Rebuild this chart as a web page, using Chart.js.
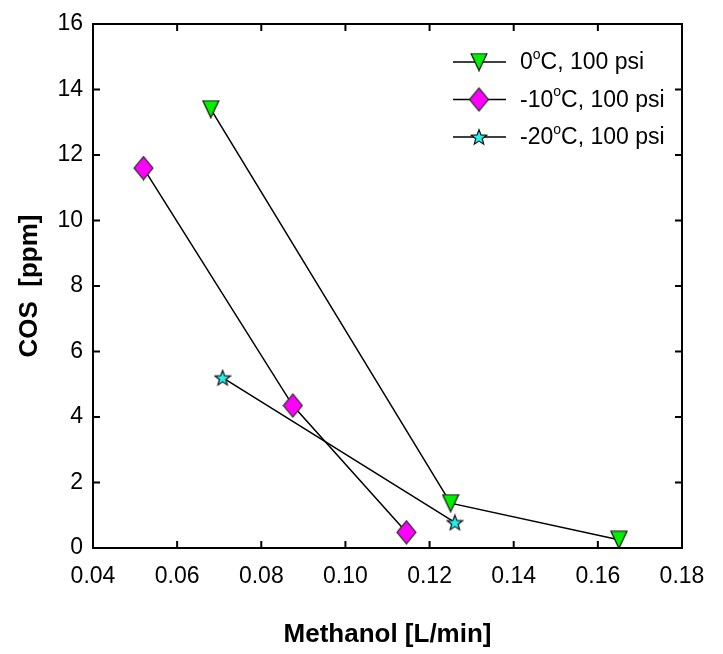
<!DOCTYPE html>
<html lang="en">
<head>
  <meta charset="UTF-8">
  <title>COS vs Methanol</title>
  <script src="https://cdn.jsdelivr.net/npm/chart.js"></script>
  <style>
    body { margin: 0; padding: 0; background: #fff; }
    #wrap { width: 723px; height: 654px; }
  </style>
</head>
<body>
  <div id="wrap"><canvas id="cosChart" width="723" height="654"></canvas></div>

  <script>
    // data
    const seriesLabels = ['0°C, 100 psi', '-10°C, 100 psi', '-20°C, 100 psi'];
    const methanol0 = [0.068, 0.125, 0.165];
    const cos0 = [13.4, 1.37, 0.25];
    const methanol10 = [0.052, 0.0875, 0.1145];
    const cos10 = [11.6, 4.35, 0.48];
    const methanol20 = [0.0708, 0.126];
    const cos20 = [5.2, 0.78];

    const xTicks = [0.04, 0.06, 0.08, 0.10, 0.12, 0.14, 0.16, 0.18];
    const yTicks = [0, 2, 4, 6, 8, 10, 12, 14, 16];

    const FONT = "'Liberation Sans', Arial, sans-serif";

    function pts(xs, ys) {
      return xs.map((x, i) => ({ x: x, y: ys[i] }));
    }

    // marker images
    function makeMarker(w, h, fill, stroke, path) {
      const c = document.createElement('canvas');
      c.width = w; c.height = h;
      const g = c.getContext('2d');
      g.beginPath();
      path(g, w, h);
      g.closePath();
      g.fillStyle = fill;
      g.fill();
      g.lineWidth = 1.2;
      g.strokeStyle = stroke;
      g.stroke();
      return c;
    }

    const triMarker = makeMarker(18, 19, '#00f000', '#111', (g, w, h) => {
      g.moveTo(1, 1); g.lineTo(w - 1, 1); g.lineTo(w / 2, h - 1);
    });
    const diaMarker = makeMarker(21, 25, '#ff00ff', '#333', (g, w, h) => {
      g.moveTo(w / 2, 1); g.lineTo(w - 1, h / 2); g.lineTo(w / 2, h - 1); g.lineTo(1, h / 2);
    });
    const starMarker = makeMarker(18, 18, '#22f0f0', '#111', (g, w, h) => {
      const cx = w / 2, cy = h / 2 + 0.7, ro = 8, ri = 3.4;
      for (let i = 0; i < 10; i++) {
        const r = i % 2 ? ri : ro;
        const a = -Math.PI / 2 + i * Math.PI / 5;
        const px = cx + r * Math.cos(a), py = cy + r * Math.sin(a);
        if (i === 0) g.moveTo(px, py); else g.lineTo(px, py);
      }
    });
    const markers = [triMarker, diaMarker, starMarker];

    // frame with inward ticks on all four sides
    const frame = {
      id: 'frame',
      afterDraw(chart) {
        const { ctx, chartArea: a } = chart;
        const xs = chart.scales.x, ys = chart.scales.y;
        ctx.save();
        ctx.strokeStyle = '#000';
        ctx.lineWidth = 2;
        ctx.strokeRect(a.left, a.top, a.right - a.left, a.bottom - a.top);
        ctx.beginPath();
        xTicks.forEach(v => {
          const px = xs.getPixelForValue(v);
          ctx.moveTo(px, a.bottom); ctx.lineTo(px, a.bottom - 7);
          ctx.moveTo(px, a.top); ctx.lineTo(px, a.top + 7);
        });
        yTicks.forEach(v => {
          const py = ys.getPixelForValue(v);
          ctx.moveTo(a.left, py); ctx.lineTo(a.left + 7, py);
          ctx.moveTo(a.right, py); ctx.lineTo(a.right - 7, py);
        });
        ctx.stroke();
        ctx.restore();
      }
    };

    // legend, top right inside the plot
    const legendBox = {
      id: 'legendBox',
      afterDraw(chart) {
        const { ctx, chartArea: a } = chart;
        const x0 = a.right - 229, y0 = a.top + 38, step = 37.5;
        ctx.save();
        seriesLabels.forEach((lab, i) => {
          const y = y0 + i * step;
          ctx.strokeStyle = '#000';
          ctx.lineWidth = 1.5;
          ctx.beginPath();
          ctx.moveTo(x0, y); ctx.lineTo(x0 + 53, y);
          ctx.stroke();
          const m = markers[i];
          ctx.drawImage(m, x0 + 26 - m.width / 2, y - m.height / 2);

          const parts = lab.split('°');
          let tx = x0 + 67;
          ctx.fillStyle = '#000';
          ctx.textBaseline = 'middle';
          ctx.textAlign = 'left';
          ctx.font = '23px ' + FONT;
          ctx.fillText(parts[0], tx, y + 1);
          tx += ctx.measureText(parts[0]).width;
          ctx.font = '14px ' + FONT;
          ctx.fillText('o', tx, y - 7);
          tx += ctx.measureText('o').width;
          ctx.font = '23px ' + FONT;
          ctx.fillText(parts[1], tx, y + 1);
        });
        ctx.restore();
      }
    };

    function makeSet(xs, ys, img) {
      return {
        data: pts(xs, ys),
        showLine: true,
        borderColor: '#000',
        borderWidth: 1.5,
        pointStyle: img,
        pointRadius: 10,
        pointHoverRadius: 10,
        tension: 0
      };
    }

    const ctx = document.getElementById('cosChart').getContext('2d');
    new Chart(ctx, {
      type: 'scatter',
      data: {
        datasets: [
          makeSet(methanol0, cos0, triMarker),
          makeSet(methanol10, cos10, diaMarker),
          makeSet(methanol20, cos20, starMarker)
        ]
      },
      options: {
        responsive: false,
        animation: false,
        devicePixelRatio: 1,
        layout: { padding: { top: 24, right: 41, left: 0, bottom: 0 } },
        scales: {
          x: {
            type: 'linear',
            min: 0.04,
            max: 0.18,
            afterBuildTicks: s => { s.ticks = xTicks.map(v => ({ value: v })); },
            afterFit: s => { s.height = 106; s.paddingLeft = 0; s.paddingRight = 0; },
            grid: { display: false, drawTicks: false },
            border: { display: false },
            ticks: {
              padding: 15,
              color: '#000',
              font: { family: FONT, size: 23 },
              callback: v => v.toFixed(2)
            },
            title: {
              display: true,
              text: 'Methanol [L/min]',
              color: '#000',
              font: { family: FONT, size: 26, weight: 'bold' },
              padding: { top: 0, bottom: 4 }
            }
          },
          y: {
            min: 0,
            max: 16,
            afterBuildTicks: s => { s.ticks = yTicks.map(v => ({ value: v })); },
            afterFit: s => { s.width = 93; },
            grid: { display: false, drawTicks: false },
            border: { display: false },
            ticks: {
              padding: 10,
              color: '#000',
              font: { family: FONT, size: 23 },
              callback: v => String(v)
            },
            title: {
              display: true,
              text: 'COS  [ppm]',
              color: '#000',
              font: { family: FONT, size: 26, weight: 'bold' },
              padding: { top: 14, bottom: 0 }
            }
          }
        },
        plugins: {
          legend: { display: false },
          tooltip: { enabled: false }
        }
      },
      plugins: [frame, legendBox]
    });
  </script>
</body>
</html>
